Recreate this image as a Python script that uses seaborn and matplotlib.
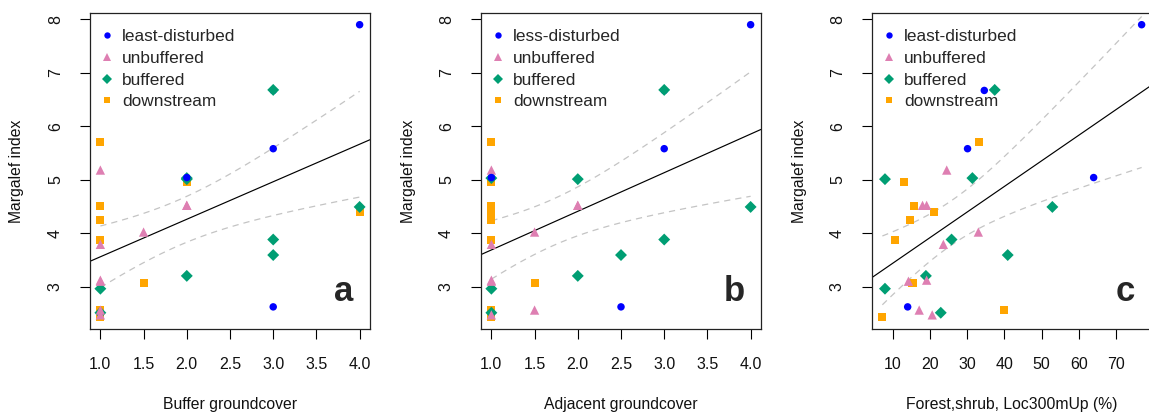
import numpy as np
import pandas as pd
import matplotlib
matplotlib.use("Agg")
import matplotlib.pyplot as plt
from matplotlib.lines import Line2D
import seaborn as sns

# ---- data (one entry per site, in plotting order) ---------------------
groups = ["least-disturbed", "unbuffered", "buffered", "downstream"]

site_group = (["least-disturbed"]
              + ["downstream"] * 9
              + ["buffered"] * 9
              + ["unbuffered"] * 9
              + ["least-disturbed"] * 4)

margalef = [6.67,
            5.71, 4.96, 4.50, 4.40, 4.25, 3.875, 3.075, 2.56, 2.425,
            6.68, 5.01, 5.03, 4.49, 3.88, 3.59, 3.20, 2.96, 2.51,
            5.18, 4.52, 4.52, 4.02, 3.79, 3.10, 3.12, 2.56, 2.47,
            7.90, 5.58, 5.04, 2.62]

buffer_gc = [3,
             1, 2, 1, 4, 1, 1, 1.5, 1, 1,
             3, 2, 2, 4, 3, 3, 2, 1, 1,
             1, 2, 2, 1.5, 1, 1, 1, 1, 1,
             4, 3, 2, 3]

adjacent_gc = [3,
               1, 1, 1, 1, 1, 1, 1.5, 1, 1,
               3, 2, 1, 4, 3, 2.5, 2, 1, 1,
               1, 2, 2, 1.5, 1, 1, 1, 1.5, 1,
               4, 3, 1, 2.5]

forest_pct = [34.6,
              33.1, 13.1, 15.8, 21.2, 14.6, 10.6, 15.3, 39.9, 7.2,
              37.4, 7.9, 31.4, 52.9, 25.8, 40.9, 18.9, 7.9, 22.9,
              24.5, 18.0, 19.1, 33.0, 23.6, 14.2, 19.1, 17.1, 20.6,
              76.9, 30.1, 64.0, 14.0]

x_labels = ["Buffer groundcover", "Adjacent groundcover",
            "Forest,shrub, Loc300mUp (%)"]
panel_letters = ["a", "b", "c"]
first_group_names = ["least-disturbed", "less-disturbed", "least-disturbed"]

# ---- styling ----------------------------------------------------------
colors = {"least-disturbed": "#0000FF", "unbuffered": "#DE7FB2",
          "buffered": "#009E73", "downstream": "#FFA500"}
markers = {"least-disturbed": "o", "unbuffered": "^",
           "buffered": "D", "downstream": "s"}
msizes = {"least-disturbed": 29, "unbuffered": 45,
          "buffered": 37, "downstream": 34}

sns.set_style("white")
plt.rcParams["font.family"] = ["Liberation Sans", "DejaVu Sans"]

sites = pd.DataFrame({"group": site_group, "margalef": margalef,
                      "buffer": buffer_gc, "adjacent": adjacent_gc,
                      "forest": forest_pct})
x_columns = ["buffer", "adjacent", "forest"]

W, H = 1149, 417
fig = plt.figure(figsize=(W / 100, H / 100), dpi=100)
ax_left_px = [90, 481, 872]
ax_w_px, ax_top_px, ax_bot_px = 280, 13, 329

for i, xcol in enumerate(x_columns):
    ax = fig.add_axes([ax_left_px[i] / W, 1 - ax_bot_px / H,
                       ax_w_px / W, (ax_bot_px - ax_top_px) / H])

    sns.scatterplot(data=sites, x=xcol, y="margalef", hue="group",
                    style="group", size="group", palette=colors,
                    markers=markers, sizes=msizes, linewidth=0,
                    legend=False, ax=ax, zorder=3)

    # axis limits padded by 4 % of the data range
    x = sites[xcol].to_numpy(float)
    y = sites["margalef"].to_numpy(float)
    xmin, xmax = x.min(), x.max()
    ymin, ymax = y.min(), y.max()
    xpad, ypad = 0.04 * (xmax - xmin), 0.04 * (ymax - ymin)
    xlim = (xmin - xpad, xmax + xpad)
    ylim = (ymin - ypad, ymax + ypad)

    # least-squares fit with 95 % confidence band
    n = len(x)
    slope, intercept = np.polyfit(x, y, 1)
    resid = y - (intercept + slope * x)
    s2 = np.sum(resid ** 2) / (n - 2)
    sxx = np.sum((x - x.mean()) ** 2)
    tcrit = 2.042  # t(0.975, df = 30)
    xx = np.linspace(xmin, xmax, 60)
    fit = intercept + slope * xx
    half = tcrit * np.sqrt(s2 * (1 / n + (xx - x.mean()) ** 2 / sxx))
    xl = np.array(xlim)
    ax.plot(xl, intercept + slope * xl, color="black", lw=0.85, zorder=2)
    for band in (fit + half, fit - half):
        ax.plot(xx, band, color="#C4C4C4", lw=0.9, ls=(0, (5, 4)), zorder=1)

    ax.set_xlim(xlim)
    ax.set_ylim(ylim)

    if i < 2:
        ticks = np.arange(1.0, 4.01, 0.5)
        ax.set_xticks(ticks)
        ax.set_xticklabels([f"{t:.1f}" for t in ticks])
    else:
        ticks = np.arange(10, 71, 10)
        ax.set_xticks(ticks)
        ax.set_xticklabels([f"{t:d}" for t in ticks])
    yt = np.arange(3, 9)
    ax.set_yticks(yt)
    ax.set_yticklabels([str(t) for t in yt])

    ax.tick_params(axis="both", direction="out", length=7.5, width=0.8,
                   color="black", labelsize=11.5, labelcolor="#111111")
    ax.tick_params(axis="x", pad=12.5, bottom=True)
    ax.tick_params(axis="y", pad=12, left=True)
    for lab in ax.get_yticklabels():
        lab.set_rotation(90)
        lab.set_va("center")
        lab.set_ha("right")

    for sp in ax.spines.values():
        sp.set_color("#222222")
        sp.set_linewidth(0.9)
        sp.set_visible(True)

    ax.set_xlabel(x_labels[i], fontsize=11.3, color="#111111", va="center")
    ax.set_ylabel("Margalef index", fontsize=11.3, color="#111111",
                  va="center")
    ax.xaxis.set_label_coords(0.5, -75 / 316)
    ax.yaxis.set_label_coords(-73 / 280, 0.5)

    ax.text(0.906, 0.12, panel_letters[i], transform=ax.transAxes,
            ha="center", va="center", fontsize=25, fontweight="bold")

    labels = [first_group_names[i]] + groups[1:]
    handles = [Line2D([], [], ls="none", marker=markers[g], color=colors[g],
                      markersize=np.sqrt(msizes[g]) * 0.85,
                      markeredgewidth=0)
               for g in groups]
    ax.legend(handles, labels, loc="upper left", frameon=False,
              bbox_to_anchor=(10 / 280, 1 - 16 / 316), borderaxespad=0,
              borderpad=0, fontsize=12.4, handlelength=0.81,
              handletextpad=0.47, labelspacing=0.39)

fig.savefig("out.png", dpi=100)
